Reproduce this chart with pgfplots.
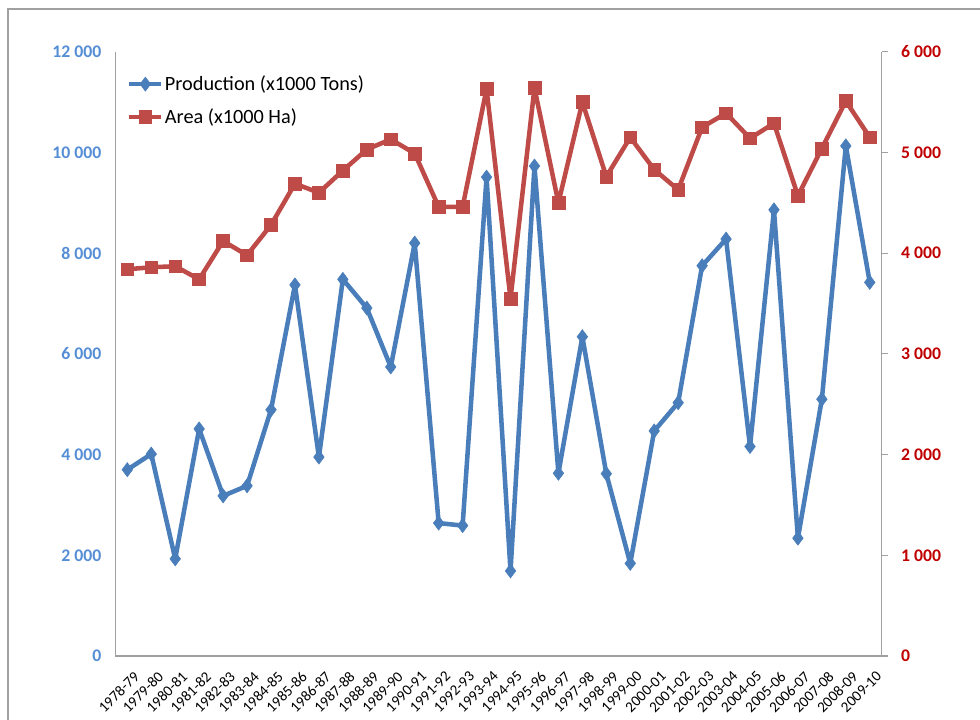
\documentclass[border=0pt]{standalone}
\usepackage{fontspec}
\setmainfont{Carlito}
\usepackage{pgfplots}
\usepackage{pgfplotstable}
\pgfplotsset{compat=1.18}

\definecolor{prodblue}{HTML}{4A7EBB}
\definecolor{areared}{HTML}{BE4B48}
\definecolor{ltblue}{HTML}{558ED5}
\definecolor{dkred}{HTML}{C00000}
\definecolor{axgray}{HTML}{A0A0A0}

% season, production (x1000 t), area (x1000 ha)
\pgfplotstableread{
idx prod area
0 3700 3840
1 4010 3860
2 1930 3870
3 4510 3740
4 3180 4120
5 3380 3980
6 4890 4280
7 7370 4690
8 3950 4600
9 7480 4820
10 6910 5030
11 5740 5130
12 8200 4990
13 2640 4460
14 2590 4460
15 9510 5630
16 1690 3550
17 9730 5640
18 3630 4500
19 6340 5500
20 3620 4760
21 1840 5150
22 4470 4830
23 5030 4630
24 7750 5250
25 8280 5390
26 4160 5140
27 8860 5290
28 2340 4570
29 5100 5040
30 10130 5510
31 7420 5150
}\data

\pgfplotsset{
  base/.style={
    scale only axis,
    width=574.8pt, height=453.2pt,
    at={(86.5pt,47.25pt)}, anchor=south west,
    xmin=-0.5, xmax=31.5,
    ymin=0,
    scaled y ticks=false,
    /pgf/number format/.cd, 1000 sep={\ }, assume math mode=true, /pgfplots/.cd,
  },
  prodstyle/.style={color=prodblue, line width=3.4pt, line join=round, mark=diamond*,
    mark size=5.3pt, mark options={line width=0.4pt, solid, line join=miter}},
  areastyle/.style={color=areared, line width=3.4pt, line join=round, mark=square*,
    mark size=4.8pt, mark options={line width=0.4pt, solid, line join=miter}},
}

\begin{document}
\begin{tikzpicture}
\useasboundingbox (0,0) rectangle (735pt,539.25pt);
\draw[axgray, line width=0.8pt] (6pt,-2pt) -- (6pt,532.5pt) -- (737pt,532.5pt);

\begin{axis}[base,
  ymax=12000,
  axis y line*=left, axis x line*=bottom,
  axis line style={axgray, line width=0.8pt},
  ytick={0,2000,...,12000},
  major tick length=0pt,
  yticklabel style={font=\fontsize{13.3}{15}\selectfont\bfseries, text=ltblue, xshift=-7pt},
  xtick={0,...,31},
  xticklabels={1978-79,1979-80,1980-81,1981-82,1982-83,1983-84,1984-85,1985-86,
    1986-87,1987-88,1988-89,1989-90,1990-91,1991-92,1992-93,1993-94,1994-95,
    1995-96,1996-97,1997-98,1998-99,1999-00,2000-01,2001-02,2002-03,2003-04,
    2004-05,2005-06,2006-07,2007-08,2008-09,2009-10},
  xticklabel style={font=\fontsize{11.3}{13}\selectfont, rotate=45, anchor=north east,
    inner sep=0pt, yshift=-10.5pt, xshift=-4.5pt},
]
\addplot[prodstyle] table[x=idx, y=prod] {\data};
\end{axis}

\begin{axis}[base,
  ymax=6000,
  axis y line*=right, axis x line=none,
  axis line style={axgray, line width=0.8pt},
  ytick={0,1000,...,6000},
  tick align=outside, major tick length=4.5pt,
  ytick style={axgray, line width=0.8pt},
  yticklabel style={font=\fontsize{13.3}{15}\selectfont\bfseries, text=dkred, xshift=6.5pt},
  legend style={draw=none, fill=none, inner sep=0pt,
    at={(axis description cs:0.015,0.963)}, anchor=north west,
    font=\fontsize{15.2}{18}\selectfont, row sep=10pt,
    nodes={inner sep=1pt}},
  legend cell align=left,
  legend image code/.code={\draw[mark repeat=2, mark phase=2, #1]
    plot coordinates {(0pt,0pt) (12pt,0pt) (24pt,0pt)};},
]
\addlegendimage{prodstyle}
\addlegendentry{Production (x1000 Tons)}
\addplot[areastyle] table[x=idx, y=area] {\data};
\addlegendentry{Area (x1000 Ha)}
\end{axis}
\end{tikzpicture}
\end{document}
